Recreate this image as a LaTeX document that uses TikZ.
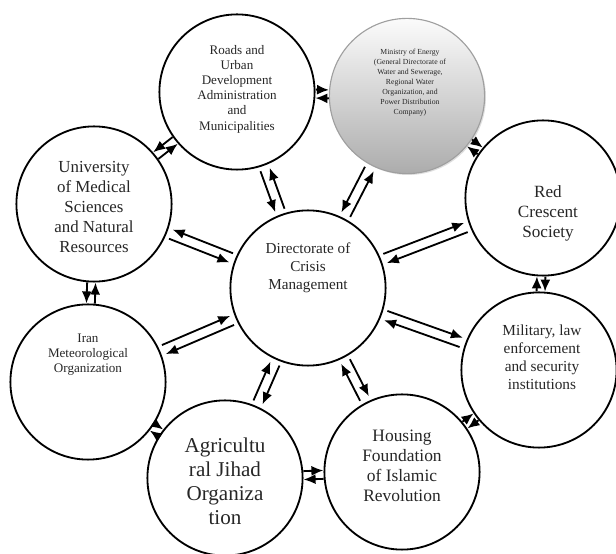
\documentclass[tikz,border=0pt]{standalone}
\usepackage{fontspec}
\setmainfont{Liberation Serif}
\usetikzlibrary{calc,arrows.meta,shadows}

\begin{document}
\begin{tikzpicture}[org/.style={circle, draw, line width=1.3pt, minimum size=3.88cm}, txt/.style={align=center, text=black!85}, link/.style={line width=1.3pt}, >={Latex[length=3mm,width=2.5mm]}]
        \useasboundingbox (0,0) rectangle (15.4,13.85);
        % circles
        \node[org] (dir) at (7.70,6.65) {};
        \node[org] (roads) at (5.925,11.55) {};
        \node[org, draw=gray!75, line width=0.8pt, top color=gray!3, bottom color=gray!65, drop shadow={shadow xshift=1pt, shadow yshift=-1pt, opacity=0.25}] (energy) at (10.175,11.45) {};
        \node[org] (red) at (13.575,8.90) {};
        \node[org] (army) at (13.475,4.60) {};
        \node[org] (housing) at (10.05,2.05) {};
        \node[org] (agri) at (5.625,1.90) {};
        \node[org] (meteo) at (2.20,4.30) {};
        \node[org] (uni) at (2.35,8.75) {};
        % texts
        \node[txt, font=\fontsize{10.8}{12.6}\selectfont] (dirtxt) at ([yshift=5mm]dir.center) {Directorate of\\Crisis\\Management};
        \node[txt, font=\fontsize{9.3}{10.8}\selectfont] (roadstxt) at ([yshift=0.75mm]roads.center) {Roads and\\Urban\\Development\\Administration\\and\\Municipalities};
        \node[txt, font=\fontsize{5.5}{7.1}\selectfont] (energytxt) at ([xshift=0.75mm, yshift=3.3mm]energy.center) {Ministry of Energy\\(General Directorate of\\Water and Sewerage,\\Regional Water\\Organization, and\\Power Distribution\\Company)};
        \node[txt, font=\fontsize{12.2}{14.2}\selectfont] (redtxt) at ([xshift=1.25mm, yshift=-3.75mm]red.center) {Red\\Crescent\\Society};
        \node[txt, font=\fontsize{10.9}{12.8}\selectfont] (armytxt) at ([xshift=0.75mm, yshift=3.25mm]army.center) {Military, law\\enforcement\\and security\\institutions};
        \node[txt, font=\fontsize{12.4}{14.2}\selectfont] (housingtxt) at ([yshift=1.5mm]housing.center) {Housing\\Foundation\\of Islamic\\Revolution};
        \node[txt, font=\fontsize{15}{17}\selectfont] (agritxt) at ([yshift=-0.75mm]agri.center) {Agricultu\\ral Jihad\\Organiza\\tion};
        \node[txt, font=\fontsize{9.3}{10.7}\selectfont] (meteotxt) at ([yshift=6.75mm]meteo.center) {Iran\\Meteorological\\Organization};
        \node[txt, font=\fontsize{12}{14.2}\selectfont] (unitxt) at ([yshift=-0.75mm]uni.center) {University\\of Medical\\Sciences\\and Natural\\Resources};
        % two-way links from the centre
        \foreach \a/\b/\p/\q in {dir/uni/-90/90, dir/roads/-90/90, dir/energy/-90/90, dir/red/90/-90, dir/army/90/-90, dir/housing/90/-90, dir/agri/90/-90, dir/meteo/90/-90} {
            \path (\a) -- (\b) coordinate[pos=0] (s) coordinate[pos=1] (e);
            \draw[link, ->, shorten <=1mm, shorten >=1mm] ($(s)!3.5pt!\p:(e)$) -- ($(e)!3.5pt!\q:(s)$);
            \draw[link, <-, shorten <=1mm, shorten >=1mm] ($(s)!3.5pt!\q:(e)$) -- ($(e)!3.5pt!\p:(s)$);
        }
        % two-way links around the ring
        \foreach \a/\b/\p/\q in {uni/roads/-90/90, roads/energy/90/-90, energy/red/90/-90, red/army/90/-90, army/housing/90/-90, housing/agri/90/-90, agri/meteo/90/-90, meteo/uni/-90/90} {
            \path (\a) -- (\b) coordinate[pos=0] (s) coordinate[pos=1] (e);
            \draw[link, ->] ($(s)!3pt!\p:(e)$) -- ($(e)!3pt!\q:(s)$);
            \draw[link, <-] ($(s)!3pt!\q:(e)$) -- ($(e)!3pt!\p:(s)$);
        }
    \end{tikzpicture}
\end{document}
